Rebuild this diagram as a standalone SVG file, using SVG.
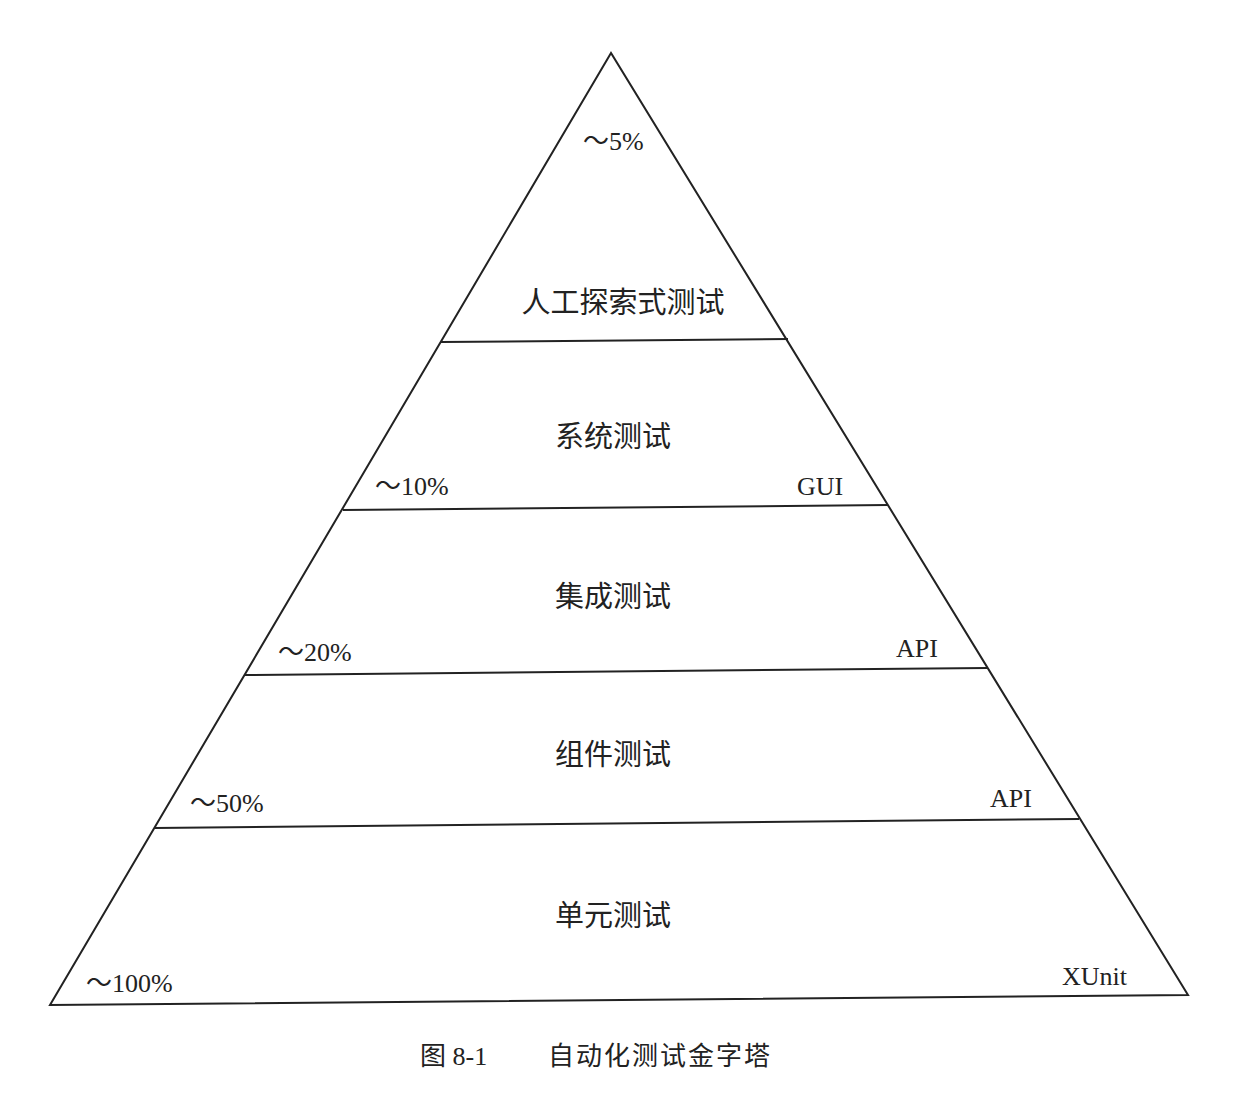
<svg xmlns="http://www.w3.org/2000/svg" width="1240" height="1111" viewBox="0 0 1240 1111">
<style>
.l{stroke:#222;stroke-width:2;fill:none}
.t{font-family:"Liberation Serif","Noto Sans CJK SC",serif;font-size:26px;fill:#222}
.c{font-family:"Liberation Serif","Noto Sans CJK SC",serif;font-size:29px;fill:#222;text-anchor:middle}
</style>
<rect width="1240" height="1111" fill="#fff"/>
<g id="connectors">
<polygon class="l" points="611,53 50,1005 1188,995"/>
<line class="l" x1="441" y1="342" x2="788" y2="339"/>
<line class="l" x1="343" y1="510" x2="888" y2="505"/>
<line class="l" x1="245" y1="675" x2="987" y2="668"/>
<line class="l" x1="155" y1="828" x2="1079" y2="819"/>
</g>
<g id="n1"><text class="t" x="583" y="150">～5%</text><text class="c" x="623" y="313">人工探索式测试</text></g>
<g id="n2"><text class="c" x="613" y="447">系统测试</text><text class="t" x="375" y="495">～10%</text><text class="t" x="797" y="495">GUI</text></g>
<g id="n3"><text class="c" x="613" y="607">集成测试</text><text class="t" x="278" y="661">～20%</text><text class="t" x="896" y="657">API</text></g>
<g id="n4"><text class="c" x="613" y="765">组件测试</text><text class="t" x="190" y="812">～50%</text><text class="t" x="990" y="807">API</text></g>
<g id="n5"><text class="c" x="613" y="926">单元测试</text><text class="t" x="86" y="992">～100%</text><text class="t" x="1062" y="985">XUnit</text></g>
<text class="t" x="420" y="1065" font-size="32">图 8-1</text>
<text class="t" x="548" y="1065" font-size="32" letter-spacing="2">自动化测试金字塔</text>
</svg>
